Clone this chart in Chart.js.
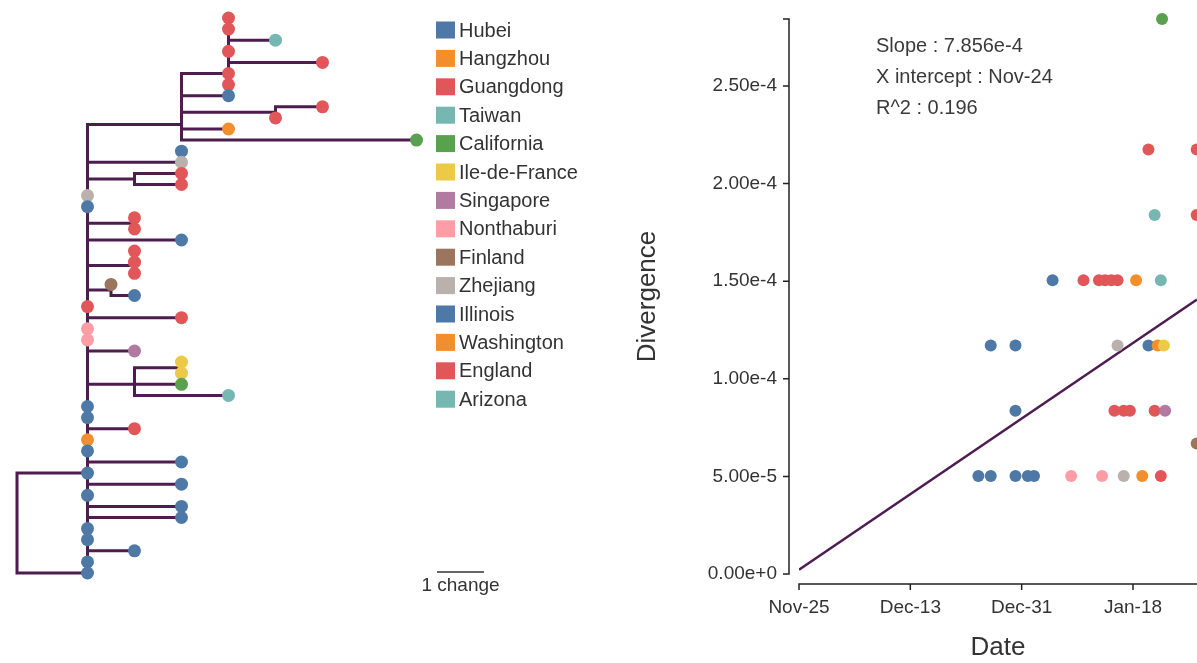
<!DOCTYPE html>
<html>
<head>
<meta charset="utf-8">
<script src="https://cdn.jsdelivr.net/npm/chart.js@4.4.1/dist/chart.umd.min.js"></script>
<style>
  html, body { margin: 0; padding: 0; background: #fff; overflow: hidden; }
  body { width: 1197px; height: 663px; position: relative; }
  #tree { position: absolute; left: 0; top: 0; }
  #rtt { position: absolute; left: 600px; top: 0; }
</style>
</head>
<body>
<canvas id="tree" width="600" height="663"></canvas>
<canvas id="rtt" width="597" height="663"></canvas>
<script>
// regions and their colours
const regions = ['Hubei', 'Hangzhou', 'Guangdong', 'Taiwan', 'California', 'Ile-de-France', 'Singapore',
  'Nonthaburi', 'Finland', 'Zhejiang', 'Illinois', 'Washington', 'England', 'Arizona'];
const regionColors = ['#4e79a7', '#f28e2b', '#e15759', '#76b7b2', '#59a14f', '#edc948', '#b07aa1',
  '#ff9da7', '#9c755f', '#bab0ac', '#4e79a7', '#f28e2b', '#e15759', '#76b7b2'];

// tree: internal nodes (changes from root, row where the stem joins)
const nodeParent  = [-1, 0, 1, 2, 2, 1, 1, 1, 1, 1, 1, 10];
const nodeChanges = [0, 1.5, 3.5, 4.5, 5.5, 3.5, 2.5, 2.5, 2.5, 2.0, 2.5, 3.5];
const nodeRow     = [45.5, 41, 9.6, 5, 8.5, 13, 14.5, 18.5, 22.3, 24.5, 33, 31.5];

// tree: tips, one per row from the top
const tipParent  = [3, 3, 3, 3, 3, 3, 3, 2, 4, 4, 2, 2, 5, 5, 6, 6, 1, 1, 7, 7, 1, 8, 8, 8, 9, 9,
  1, 1, 1, 1, 1, 11, 11, 10, 10, 1, 1, 1, 1, 1, 1, 1, 1, 1, 1, 1, 1, 1, 1, 1, 0];
const tipChanges = [4.5, 4.5, 5.5, 4.5, 6.5, 4.5, 4.5, 4.5, 6.5, 5.5, 4.5, 8.5, 3.5, 3.5, 3.5, 3.5,
  1.5, 1.5, 2.5, 2.5, 3.5, 2.5, 2.5, 2.5, 2.0, 2.5, 1.5, 3.5, 1.5, 1.5, 2.5, 3.5, 3.5, 3.5, 4.5,
  1.5, 1.5, 2.5, 1.5, 1.5, 3.5, 1.5, 3.5, 1.5, 3.5, 3.5, 1.5, 1.5, 2.5, 1.5, 1.5];
const tipRegion = ['Guangdong', 'Guangdong', 'Taiwan', 'Guangdong', 'Guangdong', 'Guangdong', 'Guangdong',
  'Hubei', 'Guangdong', 'Guangdong', 'Hangzhou', 'California', 'Hubei', 'Zhejiang', 'Guangdong', 'Guangdong',
  'Zhejiang', 'Hubei', 'Guangdong', 'Guangdong', 'Hubei', 'Guangdong', 'Guangdong', 'Guangdong', 'Finland',
  'Hubei', 'Guangdong', 'Guangdong', 'Nonthaburi', 'Nonthaburi', 'Singapore', 'Ile-de-France', 'Ile-de-France',
  'California', 'Arizona', 'Hubei', 'Hubei', 'England', 'Washington', 'Hubei', 'Hubei', 'Hubei', 'Illinois',
  'Hubei', 'Hubei', 'Hubei', 'Hubei', 'Hubei', 'Hubei', 'Hubei', 'Hubei'];

// root-to-tip: days after Nov-25, divergence, region
const sampleDay = [29, 31, 35, 37, 38, 44, 49, 52.5, 55.5, 58.5,
  64.3,
  35, 51, 52.5, 53.5, 57.5, 59.2,
  31, 35, 51.5, 56.5, 58, 59,
  41, 46, 48.5, 49.5, 50.5, 51.5, 54.5, 58.5,
  57.5, 64.3,
  56.5, 64.3,
  58.7];
const sampleDiv = [5.02e-5, 5.02e-5, 5.02e-5, 5.02e-5, 5.02e-5, 5.02e-5, 5.02e-5, 5.02e-5, 5.02e-5, 5.02e-5,
  6.69e-5,
  8.36e-5, 8.36e-5, 8.36e-5, 8.36e-5, 8.36e-5, 8.36e-5,
  1.171e-4, 1.171e-4, 1.171e-4, 1.171e-4, 1.171e-4, 1.171e-4,
  1.505e-4, 1.505e-4, 1.505e-4, 1.505e-4, 1.505e-4, 1.505e-4, 1.505e-4, 1.505e-4,
  1.839e-4, 1.839e-4,
  2.174e-4, 2.174e-4,
  2.843e-4];
const sampleRegion = ['Hubei', 'Hubei', 'Hubei', 'Hubei', 'Hubei', 'Nonthaburi', 'Nonthaburi', 'Zhejiang', 'Hangzhou', 'Guangdong',
  'Finland',
  'Hubei', 'Guangdong', 'Guangdong', 'Guangdong', 'Guangdong', 'Singapore',
  'Hubei', 'Hubei', 'Zhejiang', 'Illinois', 'Washington', 'Ile-de-France',
  'Hubei', 'Guangdong', 'Guangdong', 'Guangdong', 'Guangdong', 'Guangdong', 'Hangzhou', 'Taiwan',
  'Taiwan', 'Guangdong',
  'Guangdong', 'Guangdong',
  'California'];

const xTickDays = [0, 18, 36, 54];
const xTickLabels = ['Nov-25', 'Dec-13', 'Dec-31', 'Jan-18'];
const yTickValues = [0, 5e-5, 1e-4, 1.5e-4, 2e-4, 2.5e-4];
const dayMax = 64.35;
const divMax = 2.843e-4;

// regression
const fitSlope = 7.856e-4;      // per year
const fitInterceptDay = -1;     // Nov-24
const fitInterceptLabel = 'Nov-24';
const fitR2 = 0.196;

const FONT = '"Liberation Sans", Arial, sans-serif';
const branchColor = '#4d1d50';
const textColor = '#333';
Chart.defaults.font.family = FONT;

const colorOf = (name) => regionColors[regions.indexOf(name)];

// ---- tree ----
const branchPoints = [];
function addBranch(parentId, x, y) {
  const px = nodeChanges[parentId], py = nodeRow[parentId];
  branchPoints.push({x: px, y: py}, {x: px, y: y}, {x: x, y: y}, {x: null, y: null});
}
nodeParent.forEach((p, i) => { if (p >= 0) addBranch(p, nodeChanges[i], nodeRow[i]); });
tipParent.forEach((p, i) => addBranch(p, tipChanges[i], i));

const tipPoints = tipChanges.map((c, i) => ({x: c, y: i}));

const treeDecor = {
  id: 'treeDecor',
  afterDraw(chart) {
    const ctx = chart.ctx;
    ctx.save();
    // legend
    ctx.font = '20px ' + FONT;
    ctx.textBaseline = 'middle';
    regions.forEach((name, i) => {
      const y = 30 + i * 28.4;
      ctx.fillStyle = regionColors[i];
      ctx.fillRect(436, y - 8.5, 19, 17);
      ctx.fillStyle = textColor;
      ctx.fillText(name, 459, y + 1);
    });
    // scale bar
    const xs = chart.scales.x;
    const len = xs.getPixelForValue(1) - xs.getPixelForValue(0);
    ctx.strokeStyle = textColor;
    ctx.lineWidth = 1.5;
    ctx.beginPath();
    ctx.moveTo(437, 572);
    ctx.lineTo(437 + len, 572);
    ctx.stroke();
    ctx.font = '19px ' + FONT;
    ctx.textAlign = 'center';
    ctx.fillText('1 change', 437 + len / 2, 586);
    ctx.restore();
  }
};

new Chart(document.getElementById('tree'), {
  type: 'scatter',
  data: {
    datasets: [
      {
        data: tipPoints,
        pointBackgroundColor: tipRegion.map(colorOf),
        pointBorderWidth: 0,
        pointRadius: 6.5,
        clip: false,
        order: 0
      },
      {
        data: branchPoints,
        showLine: true,
        spanGaps: false,
        borderColor: branchColor,
        borderWidth: 3,
        pointRadius: 0,
        clip: false,
        order: 1
      }
    ]
  },
  options: {
    responsive: false,
    animation: false,
    events: [],
    layout: { autoPadding: false, padding: { left: 17, top: 18, right: 160, bottom: 90 } },
    scales: {
      x: { type: 'linear', display: false, min: 0, max: 9 },
      y: { type: 'linear', display: false, min: 0, max: 50, reverse: true }
    },
    plugins: { legend: { display: false }, tooltip: { enabled: false } }
  },
  plugins: [treeDecor]
});

// ---- root-to-tip ----
const samplePoints = sampleDay.map((d, i) => ({x: d, y: sampleDiv[i]}));
const fitPoints = [0, dayMax].map(d => ({x: d, y: fitSlope / 365 * (d - fitInterceptDay)}));
const statLines = [
  'Slope : ' + fitSlope.toExponential(3),
  'X intercept : ' + fitInterceptLabel,
  'R^2 : ' + fitR2
];

const rttAxes = {
  id: 'rttAxes',
  beforeDatasetsDraw(chart) {
    const {ctx, chartArea: a, scales: {x, y}} = chart;
    const gap = 10, tick = 6;
    ctx.save();
    ctx.strokeStyle = '#222';
    ctx.lineWidth = 1.5;
    ctx.beginPath();
    const ax = a.left - gap;
    const yTop = y.getPixelForValue(y.max), yBot = y.getPixelForValue(0);
    ctx.moveTo(ax - tick, yTop);
    ctx.lineTo(ax, yTop);
    ctx.lineTo(ax, yBot);
    ctx.lineTo(ax - tick, yBot);
    yTickValues.forEach(v => {
      const py = y.getPixelForValue(v);
      ctx.moveTo(ax - tick, py);
      ctx.lineTo(ax, py);
    });
    const ay = a.bottom + gap;
    const xl = x.getPixelForValue(x.min);
    ctx.moveTo(xl, ay + tick);
    ctx.lineTo(xl, ay);
    ctx.lineTo(a.right + 5, ay);
    xTickDays.forEach(d => {
      const px = x.getPixelForValue(d);
      ctx.moveTo(px, ay);
      ctx.lineTo(px, ay + tick);
    });
    ctx.stroke();
    // fit summary
    ctx.font = '20px ' + FONT;
    ctx.fillStyle = '#3a3a3a';
    ctx.textBaseline = 'middle';
    statLines.forEach((t, i) => ctx.fillText(t, a.left + 77, a.top + 27 + i * 31));
    ctx.restore();
  }
};

new Chart(document.getElementById('rtt'), {
  type: 'scatter',
  data: {
    datasets: [
      {
        data: samplePoints,
        pointBackgroundColor: sampleRegion.map(colorOf),
        pointBorderWidth: 0,
        pointRadius: 6,
        clip: false,
        order: 0
      },
      {
        data: fitPoints,
        showLine: true,
        borderColor: branchColor,
        borderWidth: 2.5,
        pointRadius: 0,
        order: 1
      }
    ]
  },
  options: {
    responsive: false,
    animation: false,
    events: [],
    layout: { autoPadding: false, padding: { left: 0, top: 19, right: 0, bottom: 0 } },
    plugins: { legend: { display: false }, tooltip: { enabled: false } },
    scales: {
      x: {
        type: 'linear',
        min: 0,
        max: dayMax,
        grid: { display: false, drawTicks: false },
        border: { display: false },
        afterFit(s) { s.height = 89; s.paddingLeft = 0; s.paddingRight = 0; },
        afterBuildTicks(s) { s.ticks = xTickDays.map(v => ({value: v})); },
        ticks: {
          callback: (v, i) => xTickLabels[i],
          font: { size: 19 },
          color: textColor,
          padding: 22,
          maxRotation: 0,
          autoSkip: false
        },
        title: { display: true, text: 'Date', font: { size: 26 }, color: textColor, padding: 0 }
      },
      y: {
        type: 'linear',
        min: 0,
        max: divMax,
        grid: { display: false, drawTicks: false },
        border: { display: false },
        afterFit(s) { s.width = 199; s.paddingTop = 0; s.paddingBottom = 0; },
        afterBuildTicks(s) { s.ticks = yTickValues.map(v => ({value: v})); },
        ticks: {
          callback: (v) => Number(v).toExponential(2),
          font: { size: 19 },
          color: textColor,
          padding: 22
        },
        title: { display: true, text: 'Divergence', font: { size: 26 }, color: textColor, padding: { top: 32, bottom: 0 } }
      }
    }
  },
  plugins: [rttAxes]
});
</script>
</body>
</html>
